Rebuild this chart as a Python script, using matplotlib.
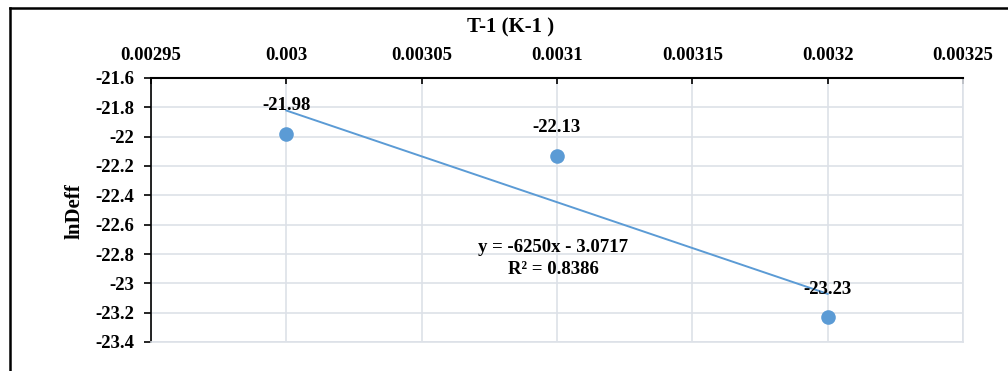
import matplotlib
matplotlib.use("Agg")
import matplotlib.pyplot as plt
from matplotlib.lines import Line2D
import numpy as np

# Data
x_vals = [0.0030, 0.0031, 0.0032]
lnDeff = [-21.98, -22.13, -23.23]
point_labels = ["-21.98", "-22.13", "-23.23"]
slope = -6250
intercept = -3.0717
x_ticks = [0.00295, 0.0030, 0.00305, 0.0031, 0.00315, 0.0032, 0.00325]
x_tick_labels = ["0.00295", "0.003", "0.00305", "0.0031", "0.00315", "0.0032", "0.00325"]
y_ticks = [-21.6, -21.8, -22.0, -22.2, -22.4, -22.6, -22.8, -23.0, -23.2, -23.4]
y_tick_labels = ["-21.6", "-21.8", "-22", "-22.2", "-22.4", "-22.6", "-22.8", "-23", "-23.2", "-23.4"]
eq_text = "y = -6250x - 3.0717"
r2_text = "R² = 0.8386"
x_title = "T-1 (K-1 )"
y_title = "lnDeff"

plt.rcParams['font.family'] = ['Liberation Serif', 'DejaVu Serif']
plt.rcParams['font.weight'] = 'bold'

W, H = 1008, 371
fig = plt.figure(figsize=(W / 100, H / 100), dpi=100)
ax = fig.add_axes([151 / W, 1 - 342 / H, (963 - 151) / W, (342 - 78) / H])

blue = "#5B9BD5"
grid_c = "#DDE1E8"

ax.set_xlim(0.00295, 0.00325)
ax.set_ylim(-23.4, -21.6)

ax.set_xticks(x_ticks)
ax.set_xticklabels(x_tick_labels)
ax.set_yticks(y_ticks)
ax.set_yticklabels(y_tick_labels)

ax.xaxis.tick_top()
ax.tick_params(axis='x', direction='in', length=4, width=1.2, pad=10, labelsize=13.5, colors='black')
ax.tick_params(axis='y', direction='out', length=5, width=1.2, pad=7, labelsize=13.5, colors='black')
for lab in ax.get_xticklabels() + ax.get_yticklabels():
    lab.set_fontweight('bold')

ax.grid(True, color=grid_c, linewidth=1.2, zorder=0)
ax.set_axisbelow(True)

for s in ['right', 'bottom']:
    ax.spines[s].set_color(grid_c)
    ax.spines[s].set_linewidth(1.2)
ax.spines['top'].set_color('black')
ax.spines['top'].set_linewidth(1.5)
ax.spines['left'].set_color('black')
ax.spines['left'].set_linewidth(1.2)

# Trendline
xt = np.array([min(x_vals), max(x_vals)])
ax.plot(xt, slope * xt + intercept, color=blue, linewidth=1.4, zorder=2)

# Points
ax.plot(x_vals, lnDeff, 'o', color=blue, markersize=10.5, markeredgewidth=0, zorder=3)

for xv, yv, lab in zip(x_vals, lnDeff, point_labels):
    ax.annotate(lab, (xv, yv), xytext=(0, 20), textcoords='offset points',
                ha='center', va='center', fontsize=13.5, fontweight='bold', zorder=4)

fig.text(553 / W, 1 - 248 / H, eq_text, ha='center', va='center',
         fontsize=13.5, fontweight='bold')
fig.text(553 / W, 1 - 269 / H, r2_text, ha='center', va='center',
         fontsize=13.5, fontweight='bold')

fig.text(511 / W, 1 - 27 / H, x_title, ha='center', va='center', fontsize=15, fontweight='bold')
fig.text(75 / W, 1 - 211 / H, y_title, ha='center', va='center', rotation=90, fontsize=15, fontweight='bold')

# Outer chart border (left and top visible)
fig.add_artist(Line2D([10 / W, 10 / W], [0, 1 - 8 / H], transform=fig.transFigure, color='black', linewidth=1.8))
fig.add_artist(Line2D([10 / W, 1], [1 - 8 / H, 1 - 8 / H], transform=fig.transFigure, color='black', linewidth=1.8))

fig.savefig("out.png", dpi=100, facecolor='white')
